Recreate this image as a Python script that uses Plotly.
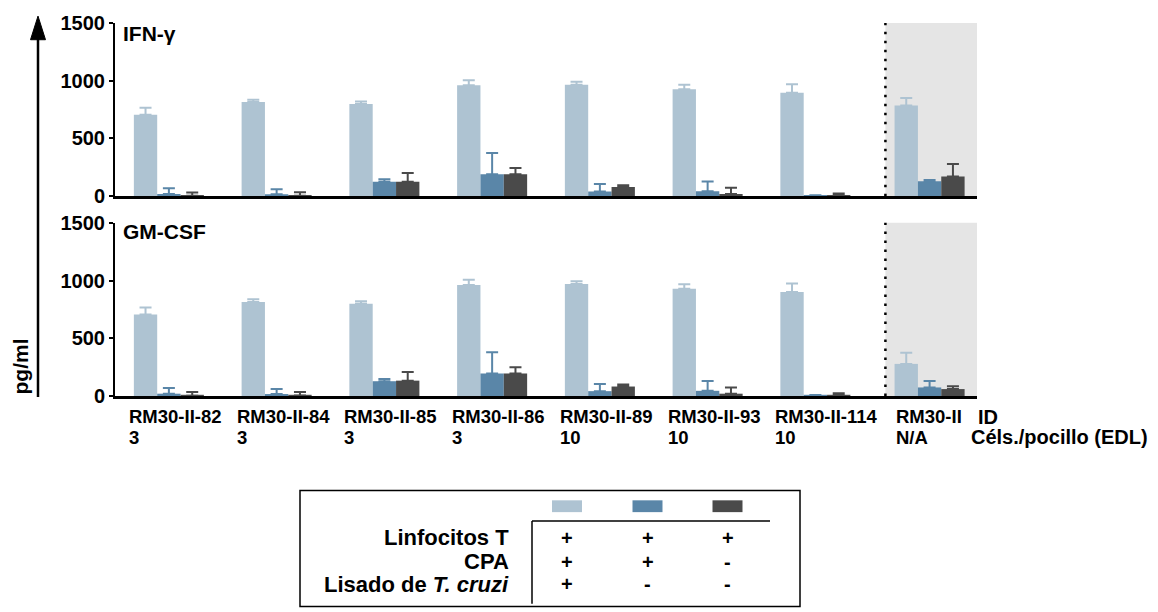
import plotly.graph_objects as go

# ---------------- data ----------------
groups = ["RM30-II-82", "RM30-II-84", "RM30-II-85", "RM30-II-86",
          "RM30-II-89", "RM30-II-93", "RM30-II-114", "RM30-II"]
cells = ["3", "3", "3", "3", "10", "10", "10", "N/A"]
group_pos = [0.5, 1.5, 2.5, 3.5, 4.5, 5.5, 6.5, 7.56]

ifn_light = [705, 815, 798, 960, 965, 926, 897, 786]
ifn_light_err = [60, 20, 22, 45, 26, 39, 72, 64]
ifn_blue = [20, 17, 125, 190, 40, 43, 8, 130]
ifn_blue_err = [48, 43, 22, 185, 65, 85, 0, 10]
ifn_dark = [3, 5, 125, 190, 79, 20, 8, 170]
ifn_dark_err = [30, 29, 77, 55, 17, 54, 15, 109]

gm_light = [705, 815, 798, 962, 970, 928, 900, 278]
gm_light_err = [62, 22, 22, 45, 24, 40, 74, 97]
gm_blue = [20, 17, 128, 195, 42, 45, 8, 74]
gm_blue_err = [50, 43, 20, 183, 63, 85, 0, 56]
gm_dark = [3, 5, 133, 195, 82, 20, 8, 60]
gm_dark_err = [32, 29, 74, 55, 17, 54, 15, 25]

legend_rows = ["Linfocitos T", "CPA", "Lisado de <i>T. cruzi</i>"]
legend_signs = [["+", "+", "+"], ["+", "+", "-"], ["+", "-", "-"]]

panel_titles = ["IFN-γ", "GM-CSF"]
y_ticks = [0, 500, 1000, 1500]

# ---------------- style ----------------
C_LIGHT = "#aec3d2"
C_BLUE = "#5a86a8"
C_DARK = "#4a4a4a"
C_SHADE = "#e5e5e5"
FONT = "Liberation Sans, Arial, sans-serif"

W, H = 1158, 612
ML, MR, MT, MB = 115, 181, 17, 216
PW, PH = W - ML - MR, H - MT - MB


def PX(x):
    return (x - ML) / PW


def PY(y):
    return (H - MB - y) / PH


fig = go.Figure()

panels = [
    ("x", "y", [(ifn_light, ifn_light_err, C_LIGHT), (ifn_blue, ifn_blue_err, C_BLUE), (ifn_dark, ifn_dark_err, C_DARK)]),
    ("x2", "y2", [(gm_light, gm_light_err, C_LIGHT), (gm_blue, gm_blue_err, C_BLUE), (gm_dark, gm_dark_err, C_DARK)]),
]

for xa, ya, series in panels:
    for i, (vals, errs, col) in enumerate(series):
        fig.add_trace(go.Bar(
            x=group_pos, y=vals, xaxis=xa, yaxis=ya,
            offsetgroup=str(i),
            marker=dict(color=col, line=dict(width=0)),
            error_y=dict(type="data", array=errs, arrayminus=[0] * len(errs),
                         symmetric=False, color=col, thickness=2, width=6),
            showlegend=False, hoverinfo="skip",
        ))

top_dom = [PY(193), 1.0]
bot_dom = [0.0, PY(220)]

axis_common_x = dict(range=[0, 8], showticklabels=False, ticks="", showgrid=False,
                     zeroline=False, showline=True, linecolor="black", linewidth=3,
                     fixedrange=True)
axis_common_y = dict(range=[0, 1500], tickvals=y_ticks, ticks="outside", ticklen=4,
                     tickwidth=2, tickcolor="black", showgrid=False, zeroline=False,
                     showline=True, linecolor="black", linewidth=2, fixedrange=True,
                     tickfont=dict(family=FONT, size=20, color="black", weight="bold"))

fig.update_layout(
    width=W, height=H,
    margin=dict(l=ML, r=MR, t=MT, b=MB),
    paper_bgcolor="white", plot_bgcolor="rgba(0,0,0,0)",
    barmode="group", bargap=0.35, bargroupgap=0,
    font=dict(family=FONT, color="black"),
    xaxis=dict(domain=[0, 1], anchor="y", **axis_common_x),
    xaxis2=dict(domain=[0, 1], anchor="y2", **axis_common_x),
    yaxis=dict(domain=top_dom, anchor="x", **axis_common_y),
    yaxis2=dict(domain=bot_dom, anchor="x2", **axis_common_y),
)

shapes = []
annotations = []

# shaded control region + dotted separator in both panels
for xa, ya in [("x", "y"), ("x2", "y2")]:
    shapes.append(dict(type="rect", xref=xa, yref=ya + " domain", x0=7.15, x1=8.0, y0=0, y1=1,
                       fillcolor=C_SHADE, line=dict(width=0), layer="below"))
    shapes.append(dict(type="line", xref=xa, yref=ya + " domain", x0=7.15, x1=7.15, y0=0, y1=1,
                       line=dict(color="black", width=2.5, dash="2.5px,6.5px"), layer="above"))

# panel titles
annotations.append(dict(xref="paper", yref="paper", x=PX(121), y=PY(28), text="<b>IFN-γ</b>",
                        showarrow=False, xanchor="left", yanchor="middle",
                        font=dict(size=21, family=FONT, color="black")))
annotations.append(dict(xref="paper", yref="paper", x=PX(121), y=PY(229), text="<b>GM-CSF</b>",
                        showarrow=False, xanchor="left", yanchor="middle",
                        font=dict(size=21, family=FONT, color="black")))

# big arrow + y title
shapes.append(dict(type="line", xref="paper", yref="paper", x0=PX(38), x1=PX(38), y0=PY(397), y1=PY(30),
                   line=dict(color="black", width=2.5)))
shapes.append(dict(type="path", xref="paper", yref="paper",
                   path="M {} {} L {} {} L {} {} Z".format(PX(38), PY(10), PX(30.5), PY(34), PX(45.5), PY(34)),
                   fillcolor="black", line=dict(color="black", width=1)))
annotations.append(dict(xref="paper", yref="paper", x=PX(20), y=PY(366), text="<b>pg/ml</b>",
                        showarrow=False, textangle=-90, xanchor="center", yanchor="middle",
                        font=dict(size=21, family=FONT, color="black")))

# x category labels
for gp, g, c in zip(group_pos, groups, cells):
    off = 0.39 if gp < 7 else 0.33
    annotations.append(dict(xref="x2", yref="paper", x=gp - off, y=PY(417), text="<b>%s</b>" % g,
                            showarrow=False, xanchor="left", yanchor="middle",
                            font=dict(size=18.5, family=FONT, color="black")))
    annotations.append(dict(xref="x2", yref="paper", x=gp - off, y=PY(438), text="<b>%s</b>" % c,
                            showarrow=False, xanchor="left", yanchor="middle",
                            font=dict(size=18.5, family=FONT, color="black")))
annotations.append(dict(xref="paper", yref="paper", x=PX(976), y=PY(417), text="<b>ID</b>",
                        showarrow=False, xanchor="left", yanchor="middle",
                        font=dict(size=20, family=FONT, color="black")))
annotations.append(dict(xref="paper", yref="paper", x=PX(969), y=PY(438), text="<b>Céls./pocillo (EDL)</b>",
                        showarrow=False, xanchor="left", yanchor="middle",
                        font=dict(size=20, family=FONT, color="black")))

# legend box
shapes.append(dict(type="rect", xref="paper", yref="paper", x0=PX(300), x1=PX(800), y0=PY(610), y1=PY(492),
                   line=dict(color="black", width=1.5), fillcolor="rgba(0,0,0,0)"))
col_x = [567, 647.5, 727.5]
for cx, col in zip(col_x, [C_LIGHT, C_BLUE, C_DARK]):
    shapes.append(dict(type="rect", xref="paper", yref="paper", x0=PX(cx - 15), x1=PX(cx + 15),
                       y0=PY(514), y1=PY(502), fillcolor=col, line=dict(width=0)))
shapes.append(dict(type="line", xref="paper", yref="paper", x0=PX(532), x1=PX(770), y0=PY(523), y1=PY(523),
                   line=dict(color="black", width=1.5)))
shapes.append(dict(type="line", xref="paper", yref="paper", x0=PX(532), x1=PX(532), y0=PY(523), y1=PY(607),
                   line=dict(color="black", width=1.5)))
row_y = [540, 564.5, 587.5]
for ry, label, signs in zip(row_y, legend_rows, legend_signs):
    annotations.append(dict(xref="paper", yref="paper", x=PX(511), y=PY(ry), text="<b>%s</b>" % label,
                            showarrow=False, xanchor="right", yanchor="middle",
                            font=dict(size=22, family=FONT, color="black")))
    for cx, s in zip(col_x, signs):
        annotations.append(dict(xref="paper", yref="paper", x=PX(cx), y=PY(ry), text="<b>%s</b>" % s,
                                showarrow=False, xanchor="center", yanchor="middle",
                                font=dict(size=20, family=FONT, color="black")))

fig.update_layout(shapes=shapes, annotations=annotations)
fig.write_html("out.html", config={"displayModeBar": False},
               post_script="document.body.style.margin='0';document.body.style.overflow='hidden';")
